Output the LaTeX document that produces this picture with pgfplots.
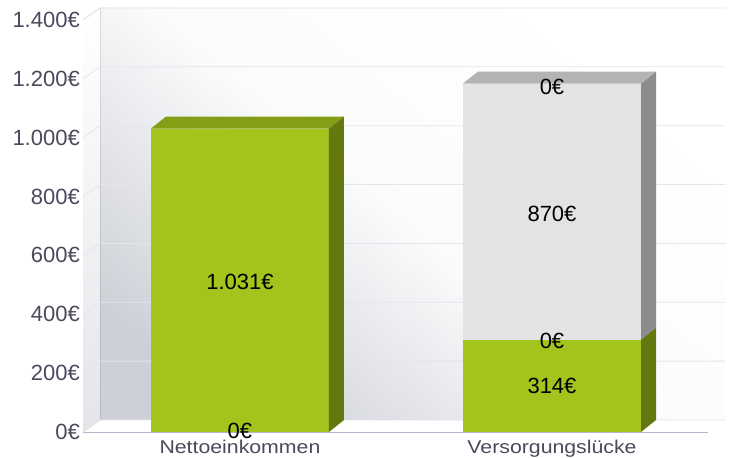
\documentclass[border=0pt]{standalone}
\usepackage{graphicx}
\usepackage{pgfplots}
\pgfplotsset{compat=1.18}
\usepackage{fontspec}
\setmainfont{Liberation Sans}
\definecolor{gfront}{HTML}{A2C41C}
\definecolor{gtop}{HTML}{849F16}
\definecolor{gside}{HTML}{63780F}
\definecolor{hfront}{HTML}{E3E3E3}
\definecolor{htop}{HTML}{B3B3B3}
\definecolor{hside}{HTML}{8C8C8C}
\definecolor{axtext}{HTML}{4A4A5C}
\definecolor{gridc}{HTML}{E4E4EC}
\definecolor{axline}{HTML}{B4B4C8}
\definecolor{wallgray}{HTML}{CDD0D7}
\begin{document}
\begin{tikzpicture}[x=1bp,y=1bp]
\path[use as bounding box] (0,0) rectangle (729,458);
\begin{axis}[at={(83bp,26bp)}, anchor=south west, scale only axis,
  width=625bp, height=412bp,
  xmin=-0.503, xmax=1.5, ymin=0, ymax=1400, clip=false,
  axis lines*=left, axis line style={draw=axline, line width=0.8bp},
  major tick length=0pt,
  ytick={0,200,400,600,800,1000,1200,1400},
  yticklabels={0€,200€,400€,600€,800€,1.000€,1.200€,1.400€},
  xtick={0,1},
  xticklabels={{\scalebox{1.15}[1]{Nettoeinkommen}},{\scalebox{1.15}[1]{Versorgungslücke}}},
  yticklabel style={font=\fontsize{22bp}{26bp}\selectfont, color=axtext, inner sep=0pt, xshift=-3bp},
  xticklabel style={font=\fontsize{18.5bp}{22bp}\selectfont, color=axtext, inner sep=0pt, yshift=-8bp},
  grid=none,
]
% back wall
\fill[top color=white, bottom color=wallgray, middle color=white!92!wallgray, shading angle=-40]
  (axis cs:-0.503,0) ++(17bp,12bp) rectangle ++(625bp,412bp);
% left wall
\fill[top color=white, bottom color=wallgray!55!white]
  (axis cs:-0.503,0) -- ++(17bp,12bp) -- ++(0bp,412bp) -- ++(-17bp,-12bp) -- cycle;
% grid lines
\pgfplotsinvokeforeach{0,200,400,600,800,1000,1200,1400}{
  \draw[gridc, line width=0.8bp] (axis cs:-0.503,#1) -- ++(17bp,12bp) -- ++(625bp,0bp);
}
% Nettoeinkommen
\addplot[fill=gfront, draw=none] coordinates {(-0.2853,0) (0.2853,0) (0.2853,1031) (-0.2853,1031)};
\addplot[fill=gtop, draw=none] coordinates {(-0.2853,1031) (0.2853,1031) (0.3334,1071.8) (-0.2372,1071.8)};
\addplot[fill=gside, draw=none] coordinates {(0.2853,0) (0.3334,40.8) (0.3334,1071.8) (0.2853,1031)};
% Versorgungsluecke green
\addplot[fill=gfront, draw=none] coordinates {(0.7147,0) (1.2853,0) (1.2853,314) (0.7147,314)};
\addplot[fill=gside, draw=none] coordinates {(1.2853,0) (1.3334,40.8) (1.3334,354.8) (1.2853,314)};
% Versorgungsluecke gray
\addplot[fill=hfront, draw=none] coordinates {(0.7147,314) (1.2853,314) (1.2853,1184) (0.7147,1184)};
\addplot[fill=hside, draw=none] coordinates {(1.2853,314) (1.3334,354.8) (1.3334,1224.8) (1.2853,1184)};
\addplot[fill=htop, draw=none] coordinates {(0.7147,1184) (1.2853,1184) (1.3334,1224.8) (0.7628,1224.8)};
% labels
\begin{scope}[every node/.style={font=\fontsize{22bp}{26bp}\selectfont, text=black, inner sep=0pt}]
\node at (axis cs:0,510) {1.031€};
\node at (axis cs:0,3) {0€};
\node at (axis cs:1,157) {314€};
\node at (axis cs:1,309) {0€};
\node at (axis cs:1,741) {870€};
\node at (axis cs:1,1172) {0€};
\end{scope}
\end{axis}
\end{tikzpicture}
\end{document}
